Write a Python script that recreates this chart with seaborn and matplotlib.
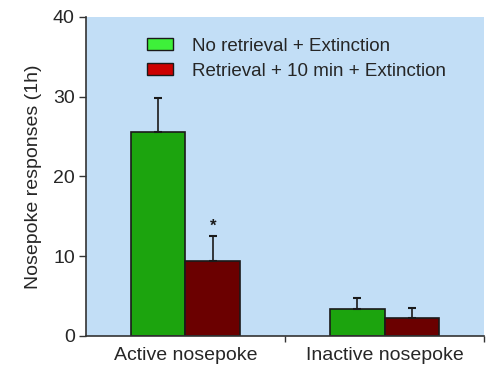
import matplotlib
matplotlib.use("Agg")
import matplotlib.pyplot as plt
from matplotlib.patches import Patch
import seaborn as sns
import pandas as pd

# Nosepoke responses during the 1 h extinction session
categories = ["Active nosepoke", "Inactive nosepoke"]
groups = ["No retrieval + Extinction", "Retrieval + 10 min + Extinction"]
no_retrieval_mean = [25.6, 3.4]
no_retrieval_sem = [4.2, 1.3]
retrieval_mean = [9.4, 2.2]
retrieval_sem = [3.1, 1.3]

df = pd.DataFrame({
    "nosepoke": categories * 2,
    "group": [groups[0]] * 2 + [groups[1]] * 2,
    "responses": no_retrieval_mean + retrieval_mean,
    "sem": no_retrieval_sem + retrieval_sem,
})

sns.set_style("ticks")
plt.rcParams["font.family"] = ["Liberation Sans", "DejaVu Sans"]

fig = plt.figure(figsize=(4.88, 3.66), dpi=100)
ax = fig.add_axes([0.176, 0.082, 0.816, 0.872])
ax.set_facecolor("#c2def6")

bar_colors = ["#1ca40e", "#6b0000"]
sns.barplot(data=df, x="nosepoke", y="responses", hue="group",
            palette=bar_colors, errorbar=None, width=0.55,
            edgecolor="#1a1a1a", linewidth=1.2, saturation=1, ax=ax,
            legend=False)

# one-sided SEM bars on top of each bar
for container, (_, sub) in zip(ax.containers, df.groupby("group", sort=False)):
    for bar, (_, row) in zip(container, sub.iterrows()):
        xc = bar.get_x() + bar.get_width() / 2
        ax.errorbar(xc, row["responses"], yerr=[[0], [row["sem"]]],
                    fmt="none", ecolor="#1a1a1a", elinewidth=1.2,
                    capsize=3, capthick=1.5, zorder=1)

# significance marker over the retrieval group, active nosepoke
red_active = ax.containers[1][0]
ax.text(red_active.get_x() + red_active.get_width() / 2,
        retrieval_mean[0] + retrieval_sem[0] + 0.3, "*",
        ha="center", va="bottom", fontsize=12, fontweight="bold",
        color="#1a1a1a")

ax.set_xlim(-0.5, 1.5)
ax.set_ylim(0, 40)
ax.set_yticks([0, 10, 20, 30, 40])
ax.set_xlabel("")
ax.set_ylabel("Nosepoke responses (1h)", fontsize=14, labelpad=8)
ax.tick_params(axis="y", labelsize=14, length=5, width=1, color="#333333", pad=3)
ax.tick_params(axis="x", which="major", labelsize=14, length=0, pad=8)
ax.set_xticks([0.5, 1.5], minor=True)
ax.tick_params(axis="x", which="minor", length=4, width=1, color="#333333")

for side in ["top", "right"]:
    ax.spines[side].set_visible(False)
for side in ["left", "bottom"]:
    ax.spines[side].set_color("#333333")
    ax.spines[side].set_linewidth(1.2)

handles = [Patch(facecolor="#3ef03a", edgecolor="#1a1a1a", linewidth=1),
           Patch(facecolor="#cc0000", edgecolor="#1a1a1a", linewidth=1)]
ax.legend(handles, groups, loc="upper left", bbox_to_anchor=(0.134, 0.958),
          frameon=False, fontsize=13.5, handlelength=1.4, handleheight=0.65,
          handletextpad=1.0, labelspacing=0.42, borderaxespad=0)

fig.savefig("out.png", dpi=100)
